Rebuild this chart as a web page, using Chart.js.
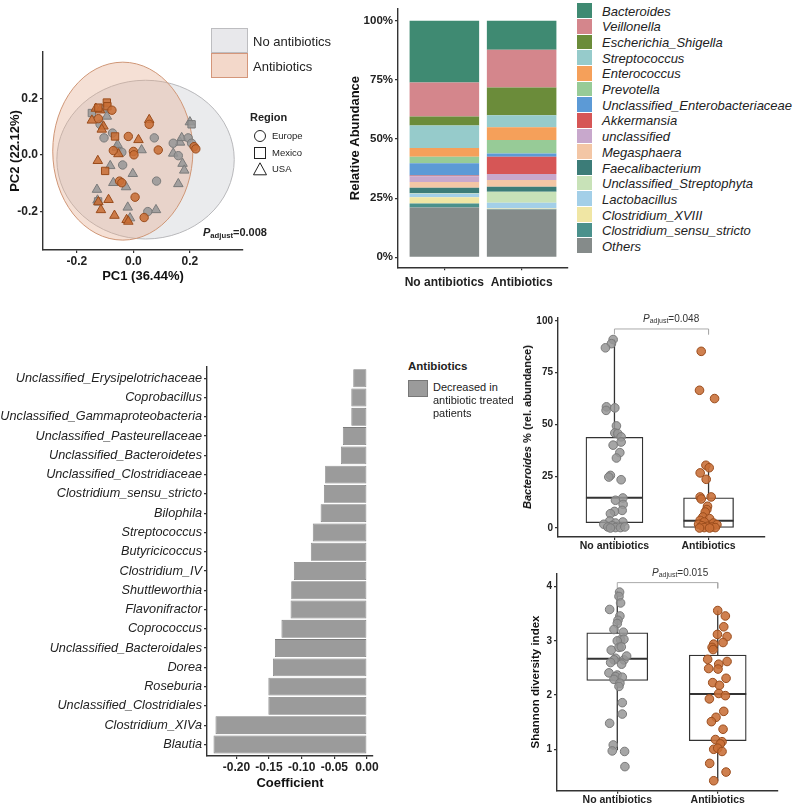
<!DOCTYPE html>
<html>
<head>
<meta charset="utf-8">
<title>Antibiotics and gut microbiota</title>
<script src="https://cdn.jsdelivr.net/npm/chart.js@4.4.1/dist/chart.umd.min.js"></script>
<style>
  html, body { margin: 0; padding: 0; background: #fff; }
  body { position: relative; width: 800px; height: 804px; overflow: hidden;
         font-family: 'Liberation Sans', Arial, sans-serif; color: #222; }
  .box { position: absolute; }
  .txt { position: absolute; white-space: nowrap; line-height: 1; transform: translateY(-50%); }
  .sw { position: absolute; box-sizing: border-box; }
  sub { font-size: 70%; vertical-align: -0.25em; }
</style>
</head>
<body>
<div class="box" style="left:0;top:30px;width:250px;height:258px"><canvas id="pcaChart"></canvas></div>
<div class="box" style="left:344px;top:0;width:230px;height:292px"><canvas id="stackChart"></canvas></div>
<div class="box" style="left:0;top:350px;width:390px;height:445px"><canvas id="coefChart"></canvas></div>
<div class="box" style="left:510px;top:300px;width:260px;height:255px"><canvas id="bactChart"></canvas></div>
<div class="box" style="left:525px;top:555px;width:260px;height:249px"><canvas id="shanChart"></canvas></div>
<div id="overlay"></div>

<script>
// ---------------- PCA (PC1 / PC2) ----------------
const pcaTicks = [-0.2, 0, 0.2];
const pcaTickLabels = ['-0.2', '0.0', '0.2'];
// confidence ellipses: [No antibiotics, Antibiotics]
const ellipseCenterX = [0.043, -0.0375];
const ellipseCenterY = [-0.016, 0.014];
const ellipseRadiusX = [0.314, 0.248];
const ellipseRadiusY = [0.281, 0.315];

const abxEurope = [[-0.076,0.159],[-0.124,0.129],[-0.071,0.016],[-0.018,0.066],[0.0,0.013],[0.002,0.001],
  [0.056,0.109],[0.088,0.018],[-0.049,-0.092],[-0.041,-0.098],[0.006,-0.149],[0.038,-0.221],[0.215,0.03],[0.221,0.022]];
const abxMexico = [[-0.124,0.168],[-0.094,0.186],[-0.092,0.173],[-0.065,0.066],[-0.1,-0.056]];
const abxUSA = [[-0.133,0.165],[-0.118,0.159],[-0.147,0.123],[-0.106,0.102],[-0.112,0.091],[-0.053,0.004],
  [0.018,0.054],[0.056,0.125],[-0.126,-0.02],[-0.124,-0.166],[-0.088,-0.158],[-0.115,-0.194],[-0.067,-0.214],
  [-0.024,-0.229],[-0.018,-0.235]];
const noAbxEurope = [[-0.118,0.109],[-0.104,0.061],[-0.074,0.078],[-0.041,0.01],[-0.038,-0.035],[0.074,0.061],
  [0.082,-0.092],[0.051,-0.2],[0.141,0.042],[0.159,-0.002],[0.194,0.061],[0.206,0.042]];
const noAbxMexico = [[-0.147,0.149],[-0.106,0.165],[0.206,0.109],[-0.125,-0.164]];
const noAbxUSA = [[-0.094,0.137],[-0.059,0.027],[-0.056,0.037],[0.029,0.018],[-0.082,-0.038],[-0.002,-0.066],
  [-0.071,-0.098],[-0.026,-0.113],[-0.129,-0.122],[-0.127,-0.16],[-0.02,-0.185],[-0.012,-0.223],[0.08,-0.194],
  [0.165,0.045],[0.171,0.061],[0.141,0.006],[0.2,0.117],[0.174,-0.03],[0.18,-0.054],[0.159,-0.102]];
const groupNames = ['No antibiotics', 'Antibiotics'];
const regionNames = ['Europe', 'Mexico', 'USA'];

// ---------------- Relative abundance ----------------
const genera = ['Bacteroides', 'Veillonella', 'Escherichia_Shigella', 'Streptococcus', 'Enterococcus',
  'Prevotella', 'Unclassified_Enterobacteriaceae', 'Akkermansia', 'unclassified', 'Megasphaera',
  'Faecalibacterium', 'Unclassified_Streptophyta', 'Lactobacillus', 'Clostridium_XVIII',
  'Clostridium_sensu_stricto', 'Others'];
const abundNoAbx = [26.1, 14.4, 3.8, 9.5, 3.7, 2.8, 5.1, 0.3, 2.5, 2.4, 2.3, 0.3, 1.4, 2.7, 1.7, 21.0];
const abundAbx   = [12.3, 15.9, 11.8, 5.0, 5.4, 5.7, 1.4, 7.3, 2.5, 2.9, 2.1, 4.6, 2.5, 0.2, 0.2, 20.2];
const pctTicks = [0, 25, 50, 75, 100];

// ---------------- Coefficients ----------------
const coefTaxa = ['Unclassified_Erysipelotrichaceae', 'Coprobacillus', 'Unclassified_Gammaproteobacteria',
  'Unclassified_Pasteurellaceae', 'Unclassified_Bacteroidetes', 'Unclassified_Clostridiaceae',
  'Clostridium_sensu_stricto', 'Bilophila', 'Streptococcus', 'Butyricicoccus', 'Clostridium_IV',
  'Shuttleworthia', 'Flavonifractor', 'Coprococcus', 'Unclassified_Bacteroidales', 'Dorea', 'Roseburia',
  'Unclassified_Clostridiales', 'Clostridium_XIVa', 'Blautia'];
const coefValues = [-0.021, -0.024, -0.024, -0.037, -0.040, -0.064, -0.066, -0.071, -0.083, -0.086,
  -0.112, -0.116, -0.117, -0.131, -0.141, -0.144, -0.151, -0.151, -0.232, -0.235];
const coefTicks = [-0.2, -0.15, -0.1, -0.05, 0];
const coefTickLabels = ['-0.20', '-0.15', '-0.10', '-0.05', '0.00'];

// ---------------- Bacteroides % box plot ----------------
const bactQ1 = [2.6, 0], bactMedian = [14.6, 3.5], bactQ3 = [43.8, 14.6];
const bactLow = [0, 0], bactHigh = [91, 30];
const bactTicks = [0, 25, 50, 75, 100];
const bactNoAbx = [[0.986,91.0],[0.968,89.0],[0.904,87.0],[0.915,58.5],[0.911,56.8],[1.004,58.0],[1.021,49.3],
  [1.004,45.9],[1.035,45.6],[1.071,44.0],[1.071,41.5],[0.986,40.0],[1.057,36.4],[1.021,33.8],[0.957,25.4],
  [0.940,24.6],[1.071,23.3],[1.089,14.5],[1.011,13.4],[1.092,11.4],[1.082,8.5],[1.000,8.0],[0.957,6.9],
  [0.950,3.4],[1.089,2.9],[1.011,2.4],[0.887,1.8],[0.975,1.1],[0.929,0.5],[1.011,0.2],[1.064,0.2],[1.110,0.5],[0.957,0.0]];
const bactAbx = [[1.922,85.3],[1.904,66.5],[2.064,62.5],[1.972,30.3],[2.007,29.1],[1.911,26.6],[1.975,23.5],
  [1.911,15.0],[1.922,14.0],[2.028,15.0],[1.989,10.5],[1.982,8.9],[1.965,7.7],[1.940,5.3],[2.011,4.5],
  [1.911,3.7],[1.954,2.9],[2.053,2.4],[1.894,1.8],[2.089,1.6],[1.929,1.1],[1.989,0.8],[2.035,0.5],
  [2.071,0.2],[1.954,0.2],[1.904,0.0],[2.011,0.0]];
const bactBracket = [93.5, 96.1];

// ---------------- Shannon box plot ----------------
const shanQ1 = [2.27, 1.16], shanMedian = [2.67, 2.02], shanQ3 = [3.15, 2.74];
const shanLow = [0.98, 0.42], shanHigh = [3.92, 3.56];
const shanTicks = [1, 2, 3, 4];
const shanNoAbx = [[1.023,3.90],[1.017,3.82],[1.033,3.70],[0.924,3.58],[1.026,3.46],[1.007,3.38],[1.0,3.32],
  [0.967,3.21],[1.060,3.16],[1.033,3.02],[1.066,3.03],[1.0,3.0],[0.940,2.83],[1.017,2.88],[1.040,2.89],
  [0.983,2.68],[0.967,2.65],[1.066,2.65],[1.093,2.72],[0.934,2.60],[1.043,2.57],[0.917,2.41],[1.0,2.37],
  [0.983,2.34],[1.050,2.33],[0.967,2.29],[1.026,2.22],[1.017,2.16],[1.050,1.86],[1.050,1.65],[0.924,1.48],
  [0.960,1.08],[0.950,0.97],[1.073,0.96],[1.076,0.68]];
const shanAbx = [[2.0,3.56],[2.076,3.46],[2.060,3.26],[2.093,3.08],[1.997,3.12],[2.053,2.97],[1.960,2.94],
  [1.944,2.88],[1.954,2.84],[1.900,2.66],[2.093,2.62],[2.010,2.57],[1.910,2.49],[2.003,2.48],[2.083,2.31],
  [1.950,2.23],[2.017,2.18],[2.010,2.03],[2.076,1.99],[1.917,1.93],[2.060,1.70],[1.983,1.59],[1.937,1.51],
  [2.053,1.37],[1.977,1.18],[2.043,1.14],[2.026,1.10],[1.960,1.00],[2.0,1.02],[2.043,0.96],[1.920,0.74],
  [2.083,0.58],[1.960,0.42]];
const shanBracket = [3.97, 4.075];

// ---------------- styling ----------------
const AXIS_COLOR = '#333';
const GRAY_FILL = 'rgba(150,150,150,0.85)', GRAY_LINE = '#7a7a7a';
const ORANGE_FILL = 'rgba(200,110,55,0.88)', ORANGE_LINE = '#9a4c1c';
const generaColors = ['#3f8a72', '#d4868c', '#6b8c3a', '#96cbcb', '#f5a05a', '#97cb97', '#5c9ad6', '#d65656',
  '#c8a8cc', '#f3c6a5', '#3c7c78', '#c8e2b8', '#a3cfe8', '#f0e6a4', '#4b918c', '#858b8a'];

Chart.defaults.font.family = "'Liberation Sans', Arial, sans-serif";
Chart.defaults.color = '#222';
Chart.defaults.animation = false;
Chart.defaults.maintainAspectRatio = false;
Chart.defaults.plugins.legend.display = false;
Chart.defaults.plugins.tooltip.enabled = false;

function axisScale(o) {
  return {
    type: 'linear', min: o.min, max: o.max, reverse: !!o.reverse, offset: false,
    afterBuildTicks: s => { s.ticks = o.ticks.map(v => ({ value: v })); },
    afterFit: s => { if (o.width) s.width = o.width; if (o.height) s.height = o.height; },
    grid: { display: true, offset: false, drawOnChartArea: false, drawTicks: true, tickLength: 3,
            tickColor: AXIS_COLOR, color: AXIS_COLOR, lineWidth: 1.2 },
    border: { display: true, color: AXIS_COLOR, width: 1.4 },
    ticks: {
      autoSkip: false, maxRotation: 0, minRotation: 0, padding: o.pad === undefined ? 2 : o.pad,
      color: '#222', font: o.font || { size: 12, weight: 'bold' },
      callback: (v, i) => o.labels[i]
    },
    title: o.title ? { display: true, text: o.title, color: '#111',
      font: { size: o.titleSize || 13, weight: 'bold' }, padding: o.titlePad || { top: 4, bottom: 4 } }
      : { display: false }
  };
}

// ---- PCA ----
const ellipsePlugin = {
  id: 'ellipses',
  beforeDatasetsDraw(chart) {
    const { ctx, scales: { x, y } } = chart;
    const fills = ['rgba(208,210,215,0.45)', 'rgba(228,168,138,0.36)'];
    const lines = ['#b8b8bb', '#cf9676'];
    ellipseCenterX.forEach((cxv, i) => {
      const cx = x.getPixelForValue(cxv), cy = y.getPixelForValue(ellipseCenterY[i]);
      const rx = Math.abs(x.getPixelForValue(cxv + ellipseRadiusX[i]) - cx);
      const ry = Math.abs(y.getPixelForValue(ellipseCenterY[i] + ellipseRadiusY[i]) - cy);
      ctx.save();
      ctx.beginPath();
      ctx.ellipse(cx, cy, rx, ry, 0, 0, Math.PI * 2);
      ctx.fillStyle = fills[i]; ctx.fill();
      ctx.lineWidth = 1; ctx.strokeStyle = lines[i]; ctx.stroke();
      ctx.restore();
    });
  }
};

const pcaGroups = [
  { pts: abxEurope, style: 'circle', r: 4.2, fill: ORANGE_FILL, line: ORANGE_LINE },
  { pts: abxMexico, style: 'rect', r: 5.2, fill: ORANGE_FILL, line: ORANGE_LINE },
  { pts: abxUSA, style: 'triangle', r: 5.5, fill: ORANGE_FILL, line: ORANGE_LINE },
  { pts: noAbxEurope, style: 'circle', r: 4.2, fill: GRAY_FILL, line: GRAY_LINE },
  { pts: noAbxMexico, style: 'rect', r: 5.2, fill: GRAY_FILL, line: GRAY_LINE },
  { pts: noAbxUSA, style: 'triangle', r: 5.5, fill: GRAY_FILL, line: GRAY_LINE }
];

new Chart(document.getElementById('pcaChart'), {
  type: 'scatter',
  data: {
    datasets: pcaGroups.map(g => ({
      data: g.pts.map(([x, y]) => ({ x, y })),
      pointStyle: g.style, pointRadius: g.r, backgroundColor: g.fill, borderColor: g.line, borderWidth: 1
    }))
  },
  options: {
    layout: { autoPadding: false, padding: { left: 0, right: 7, top: 22, bottom: 0 } },
    scales: {
      x: axisScale({ min: -0.32, max: 0.388, ticks: pcaTicks, labels: pcaTickLabels, height: 38, pad: 1,
                     title: 'PC1 (36.44%)' }),
      y: axisScale({ min: -0.336, max: 0.365, ticks: pcaTicks, labels: pcaTickLabels, width: 43,
                     title: 'PC2 (22.12%)', titlePad: { top: 8, bottom: 4 } })
    }
  },
  plugins: [ellipsePlugin]
});

// ---- stacked relative abundance ----
new Chart(document.getElementById('stackChart'), {
  type: 'bar',
  data: {
    datasets: genera.map((g, i) => ({
      label: g,
      data: [{ x: 1, y: abundNoAbx[i] }, { x: 2, y: abundAbx[i] }],
      backgroundColor: generaColors[i], borderWidth: 0, stack: 'taxa',
      barPercentage: 0.9, categoryPercentage: 1
    })).reverse()
  },
  options: {
    layout: { autoPadding: false, padding: { left: 0, right: 6, top: 1, bottom: 0 } },
    scales: {
      x: axisScale({ min: 0.4, max: 2.6, ticks: [1, 2], labels: groupNames, height: 24.8, pad: 5 }),
      y: Object.assign(axisScale({ min: -4.2, max: 105, ticks: pctTicks, labels: pctTicks.map(v => v + '%'),
                     width: 54, font: { size: 11.5, weight: 'bold' }, title: 'Relative Abundance' }), { stacked: true })
    }
  }
});

// ---- coefficient bars ----
new Chart(document.getElementById('coefChart'), {
  type: 'bar',
  data: {
    datasets: [{
      data: coefValues.map((v, i) => ({ x: v, y: i + 1 })),
      backgroundColor: '#9b9b9b', borderColor: '#7d7d7d', borderWidth: 0.8, borderSkipped: false,
      barPercentage: 0.93, categoryPercentage: 1
    }]
  },
  options: {
    indexAxis: 'y',
    layout: { autoPadding: false, padding: { left: 0, right: 17, top: 16.7, bottom: 0 } },
    scales: {
      x: axisScale({ min: -0.245, max: 0.0092, ticks: coefTicks, labels: coefTickLabels, height: 39, pad: 1,
                     title: 'Coefficient' }),
      y: axisScale({ min: 0.4, max: 20.6, reverse: true, ticks: coefTaxa.map((t, i) => i + 1), labels: coefTaxa,
                     width: 207, font: { size: 12.7, style: 'italic', weight: 'normal' } })
    }
  }
});

// ---- box plots ----
const medianPlugin = {
  id: 'medians',
  afterDatasetDraw(chart, args) {
    const ds = chart.data.datasets[args.index];
    if (!ds.medians) return;
    const { ctx } = chart, y = chart.scales.y;
    args.meta.data.forEach((el, i) => {
      const py = y.getPixelForValue(ds.medians[i]);
      ctx.save();
      ctx.strokeStyle = '#333'; ctx.lineWidth = 2.2;
      ctx.beginPath(); ctx.moveTo(el.x - el.width / 2, py); ctx.lineTo(el.x + el.width / 2, py); ctx.stroke();
      ctx.restore();
    });
  }
};

function boxDatasets(q1, med, q3, lo, hi, widths, noPts, abPts, bracket) {
  const sets = [];
  [0, 1].forEach(g => {
    sets.push({ type: 'line', data: [{ x: g + 1, y: lo[g] }, { x: g + 1, y: hi[g] }],
      borderColor: '#333', borderWidth: 1.3, pointRadius: 0, order: 5 });
    sets.push({ type: 'bar', data: [{ x: g + 1, y: [q1[g], q3[g]] }], medians: [med[g]],
      backgroundColor: '#fff', borderColor: '#333', borderWidth: 1.3, borderSkipped: false,
      grouped: false, barThickness: widths[g], order: 3 });
  });
  sets.push({ type: 'line', data: [{ x: 1, y: bracket[0] }, { x: 1, y: bracket[1] }, { x: 2, y: bracket[1] }, { x: 2, y: bracket[0] }],
    borderColor: '#aaa', borderWidth: 1, pointRadius: 0, order: 5 });
  sets.push({ type: 'scatter', data: noPts.map(([x, y]) => ({ x, y })), pointRadius: 4.3,
    backgroundColor: GRAY_FILL, borderColor: GRAY_LINE, borderWidth: 1, order: 1 });
  sets.push({ type: 'scatter', data: abPts.map(([x, y]) => ({ x, y })), pointRadius: 4.3,
    backgroundColor: ORANGE_FILL, borderColor: ORANGE_LINE, borderWidth: 1, order: 1 });
  return sets;
}

new Chart(document.getElementById('bactChart'), {
  type: 'bar',
  data: { datasets: boxDatasets(bactQ1, bactMedian, bactQ3, bactLow, bactHigh, [57, 50], bactNoAbx, bactAbx, bactBracket) },
  options: {
    layout: { autoPadding: false, padding: { left: 0, right: 5, top: 18, bottom: 0 } },
    scales: {
      x: axisScale({ min: 0.4, max: 2.6, ticks: [1, 2], labels: groupNames, height: 18, pad: 0,
                     font: { size: 10.5, weight: 'bold' } }),
      y: axisScale({ min: -4.35, max: 101.4, ticks: bactTicks, labels: bactTicks.map(String), width: 48,
                     font: { size: 10, weight: 'bold' } })
    }
  },
  plugins: [medianPlugin]
});

new Chart(document.getElementById('shanChart'), {
  type: 'bar',
  data: { datasets: boxDatasets(shanQ1, shanMedian, shanQ3, shanLow, shanHigh, [61, 57], shanNoAbx, shanAbx, shanBracket) },
  options: {
    layout: { autoPadding: false, padding: { left: 0, right: 7, top: 18.3, bottom: 0 } },
    scales: {
      x: axisScale({ min: 0.4, max: 2.6, ticks: [1, 2], labels: groupNames, height: 13.3, pad: 0,
                     font: { size: 10.5, weight: 'bold' } }),
      y: axisScale({ min: 0.236, max: 4.247, ticks: shanTicks, labels: shanTicks.map(String), width: 32,
                     font: { size: 10, weight: 'bold' }, title: 'Shannon diversity index', titleSize: 11.5 })
    }
  },
  plugins: [medianPlugin]
});

// ---------------- legends and annotations (HTML text) ----------------
const overlay = document.getElementById('overlay');
let html = '';
function txt(left, cy, content, style) {
  html += `<div class="txt" style="left:${left}px;top:${cy}px;${style || ''}">${content}</div>`;
}
function sw(left, top, w, h, bg, border) {
  html += `<div class="sw" style="left:${left}px;top:${top}px;width:${w}px;height:${h}px;background:${bg};` +
          (border ? `border:1px solid ${border};` : '') + `"></div>`;
}

// PCA group legend
sw(211, 28, 37, 25, '#e8e8eb', '#bdbdc0');
sw(211, 53, 37, 25, '#f3d8ca', '#d4967a');
txt(253, 41, groupNames[0], 'font-size:13px;');
txt(253, 66, groupNames[1], 'font-size:13px;');
// Region legend
txt(250, 117, 'Region', 'font-size:11px;font-weight:bold;');
const regionSymbols = [
  '<circle cx="7" cy="7" r="5.5" fill="none" stroke="#222" stroke-width="1"/>',
  '<rect x="1.5" y="1.5" width="11" height="11" fill="none" stroke="#222" stroke-width="1"/>',
  '<polygon points="7,0.8 13.5,12.8 0.5,12.8" fill="none" stroke="#222" stroke-width="1"/>'
];
regionNames.forEach((r, i) => {
  const cy = 136 + i * 16.5;
  html += `<svg style="position:absolute;left:253px;top:${cy - 7}px" width="14" height="14">${regionSymbols[i]}</svg>`;
  txt(272, cy, r, 'font-size:9.5px;');
});
txt(203, 233, '<i>P</i><sub>adjust</sub>=0.008', 'font-size:11px;font-weight:bold;');

// stacked legend
genera.forEach((g, i) => {
  const top = 3.3 + i * 15.67;
  sw(577, top, 15, 14.7, generaColors[i]);
  txt(602, top + 7.5, g, 'font-size:13px;font-style:italic;');
});

// coefficient legend
txt(408, 367, 'Antibiotics', 'font-size:11.5px;font-weight:bold;');
sw(408, 380, 20, 17, '#9b9b9b', '#777');
txt(433, 387, 'Decreased in', 'font-size:11px;');
txt(433, 400, 'antibiotic treated', 'font-size:11px;');
txt(433, 413, 'patients', 'font-size:11px;');

// box plot annotations
html += '<div style="position:absolute;left:527px;top:427px;transform:translate(-50%,-50%) rotate(-90deg);' +
        'white-space:nowrap;font-size:11px;font-weight:bold;color:#111;"><i>Bacteroides</i> % (rel. abundance)</div>';
txt(643, 319, '<i>P</i><sub>adjust</sub>=0.048', 'font-size:10px;color:#333;');
txt(652, 573, '<i>P</i><sub>adjust</sub>=0.015', 'font-size:10px;color:#333;');

overlay.innerHTML = html;
</script>
</body>
</html>
